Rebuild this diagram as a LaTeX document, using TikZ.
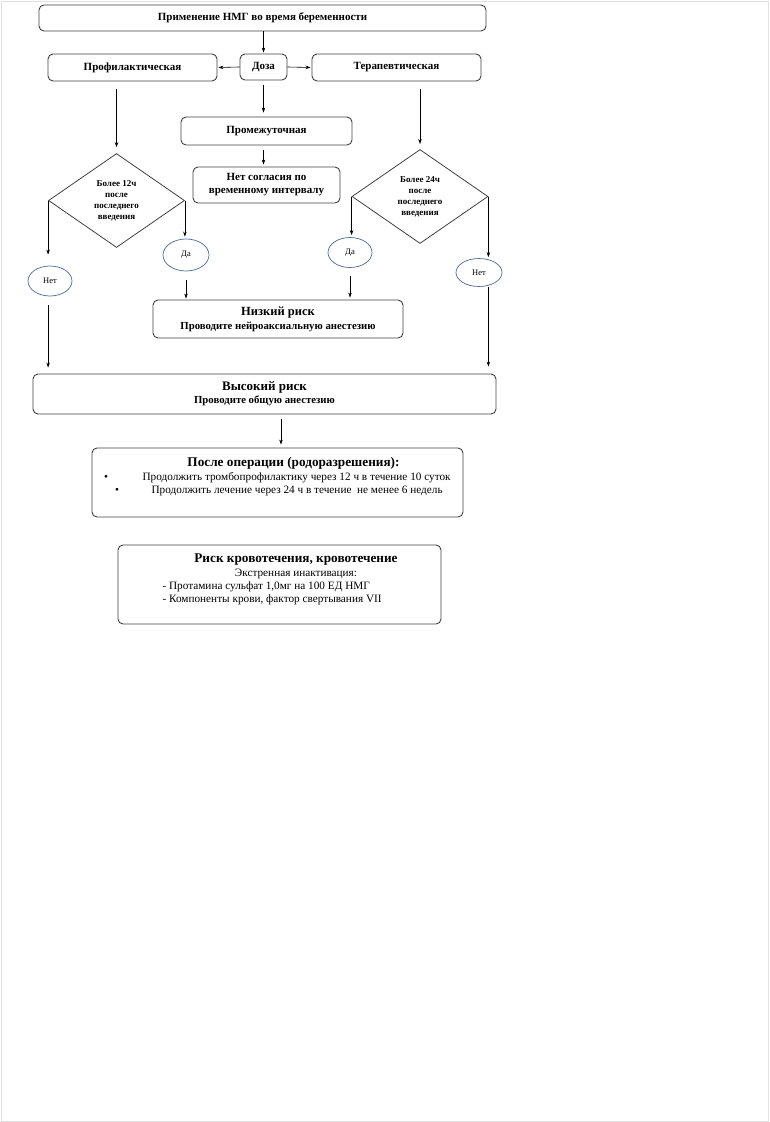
\documentclass[tikz,border=0pt]{standalone}
\usepackage{fontspec}
\setmainfont{Liberation Serif}
\usetikzlibrary{shapes.geometric,arrows.meta}
\definecolor{rahmen}{RGB}{64,64,64}
\definecolor{ovalblau}{RGB}{75,105,150}
\begin{document}
\begin{tikzpicture}[x=1pt,y=-1pt,
  box/.style={draw=rahmen,line width=0.9pt,rounded corners=5pt,align=center,inner sep=0pt,font=\bfseries\fontsize{11}{13}\selectfont},
  raute/.style={draw=rahmen,line width=0.8pt,diamond,aspect=1.45,inner sep=0pt,minimum width=136pt,minimum height=94pt,align=center,font=\bfseries\fontsize{9}{11}\selectfont},
  oval/.style={draw=ovalblau,line width=0.7pt,ellipse,inner sep=0pt,font=\fontsize{8.5}{10}\selectfont},
  zeile/.style={font=\fontsize{11.25}{13}\selectfont},
  kopf/.style={font=\bfseries\fontsize{13.25}{15}\selectfont},
  pfeil/.style={-{Stealth[length=5pt,width=3.5pt]},line width=0.6pt}]
	%Rahmen der Seite
	\useasboundingbox (0,0) rectangle (770,1122);
	\draw [black!12,line width=0.8pt] (1,1) rectangle (768,1121);
	%Kopf und Dosis
	\node [box,minimum width=447pt,minimum height=26pt] (titel) at (262.5,18) {Применение НМГ во время беременности};
	\node [box,minimum width=47pt,minimum height=26pt] (dosis) at (263.5,67) {Доза};
	\node [box,minimum width=169pt,minimum height=27pt] (prof) at (132.5,67.5) {Профилактическая};
	\node [box,minimum width=169pt,minimum height=27pt] (ther) at (396.5,67.5) {Терапевтическая};
	\node [box,minimum width=171pt,minimum height=28pt] (zwisch) at (266.5,131) {Промежуточная};
	\node [box,minimum width=147pt,minimum height=36pt] (keine) at (266.5,185) {Нет согласия по\\временному интервалу};
	%Rauten
	\node [raute] (rl) at (116.5,200.5) {Более 12ч\\после\\последнего\\введения};
	\node [raute] (rr) at (420,196.5) {Более 24ч\\после\\последнего\\введения};
	%Ja und Nein
	\node [oval,minimum width=44pt,minimum height=30pt] (neinl) at (50,281) {Нет};
	\node [oval,minimum width=46pt,minimum height=32pt] (jal) at (186,255) {Да};
	\node [oval,minimum width=44pt,minimum height=30pt] (jar) at (350,252.5) {Да};
	\node [oval,minimum width=46pt,minimum height=28pt] (neinr) at (479,272.5) {Нет};
	%Risiko
	\node [box,minimum width=250pt,minimum height=38pt,font=\bfseries\fontsize{10.75}{13}\selectfont] (niedrig) at (278,319) {{\fontsize{12.5}{14}\selectfont Низкий риск}\\[1pt]Проводите нейроаксиальную анестезию};
	\node [box,minimum width=463pt,minimum height=40pt,font=\bfseries\fontsize{10.75}{13}\selectfont] (hoch) at (264.5,394) {{\fontsize{13}{14}\selectfont Высокий риск}\\Проводите общую анестезию};
	%Nach der Operation
	\node [box,minimum width=371pt,minimum height=69pt] (nachop) at (277.5,482.5) {};
	\node [kopf] (nachtitel) at (293.5,463) {После операции (родоразрешения):};
	\node [zeile,anchor=west] (punkt1) at (139,478) {Продолжить тромбопрофилактику через 12 ч в течение 10 суток};
	\node [zeile,anchor=west] (punkt2) at (148,491) {Продолжить лечение через 24 ч в течение\ \ не менее 6 недель};
	\node [zeile] at (106,478) {•};
	\node [zeile] at (117,491) {•};
	%Blutung
	\node [box,minimum width=323pt,minimum height=79pt] (blutung) at (279.5,584.5) {};
	\node [kopf] (bluttitel) at (296,560) {Риск кровотечения, кровотечение};
	\node [zeile] (notfall) at (296,573.5) {Экстренная инактивация:};
	\node [zeile,anchor=west] (prot) at (159,586.5) {- Протамина сульфат 1,0мг на 100 ЕД НМГ};
	\node [zeile,anchor=west] (komp) at (159,599.5) {- Компоненты крови, фактор свертывания VII};
	%Pfeile
	\draw [pfeil,shorten >=1pt] (titel.south -| dosis.north) -- (dosis.north);
	\draw [pfeil,shorten >=1pt] (dosis.west) -- (prof.east);
	\draw [pfeil,shorten >=1pt] (dosis.east) -- (ther.west);
	\draw [pfeil,shorten <=5pt,shorten >=4pt] (dosis.south) -- (zwisch.north -| dosis.south);
	\draw [pfeil,shorten <=5pt,shorten >=2pt] (zwisch.south -| dosis.south) -- (keine.north -| dosis.south);
	\draw [pfeil,shorten <=8pt,shorten >=6pt] (rl.north |- prof.south) -- (rl.north);
	\draw [pfeil,shorten <=8pt,shorten >=5pt] (rr.north |- ther.south) -- (rr.north);
	\draw [pfeil,shorten >=11pt] (rl.west) -- (rl.west |- neinl.north);
	\draw [pfeil,shorten >=2pt] (rl.east) -- (rl.east |- jal.north);
	\draw [pfeil,shorten >=2pt] (rr.west) -- (rr.west |- jar.north);
	\draw [pfeil,shorten >=1pt] (rr.east) -- (rr.east |- neinr.north);
	\draw [pfeil,shorten <=9pt,shorten >=1pt] (jal.south) -- (jal.south |- niedrig.north);
	\draw [pfeil,shorten <=8pt,shorten >=2pt] (jar.south) -- (jar.south |- niedrig.north);
	\draw [pfeil,shorten <=9pt,shorten >=6pt] (neinl.south -| rl.west) -- (hoch.north -| rl.west);
	\draw [pfeil,shorten >=7pt] (neinr.south -| rr.east) -- (hoch.north -| rr.east);
	\draw [pfeil,shorten <=5pt,shorten >=3pt] (hoch.south -| 281,0) -- (nachop.north -| 281,0);
\end{tikzpicture}
\end{document}
